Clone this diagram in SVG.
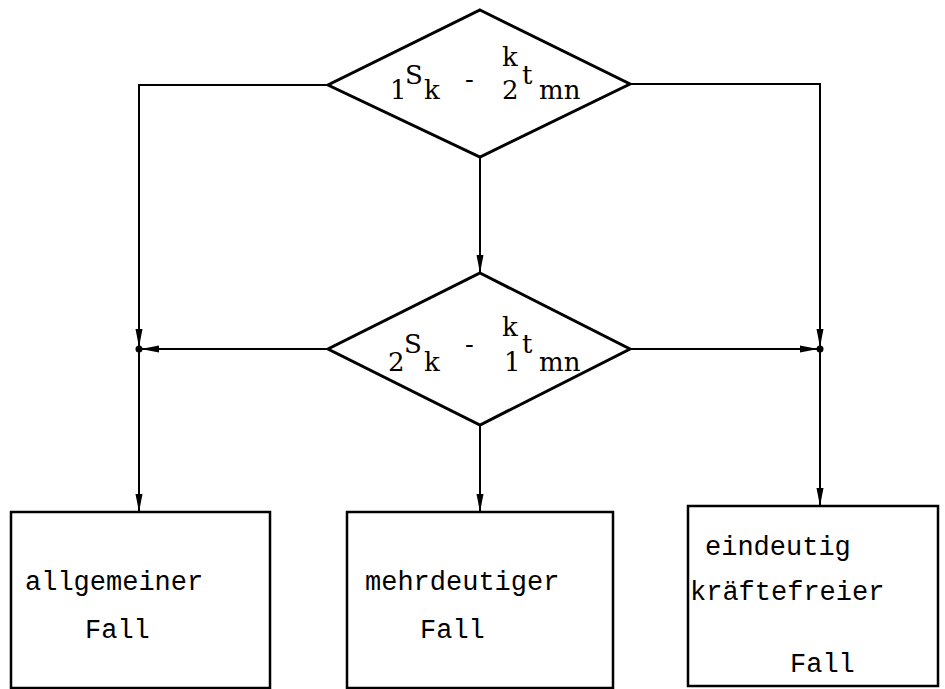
<svg xmlns="http://www.w3.org/2000/svg" width="945" height="689" viewBox="0 0 945 689">
<defs>
<style>
.shape{fill:#fff;stroke:#000;stroke-width:3}
.box{fill:none;stroke:#000;stroke-width:2.5}
.conn{fill:none;stroke:#000;stroke-width:2}
.mono{font-family:"Liberation Mono","Courier New",monospace;font-size:27px;fill:#000}
.ser{font-family:"DejaVu Serif","Liberation Serif",serif;font-size:26px;fill:#000}
</style>
<marker id="arr" markerUnits="userSpaceOnUse" markerWidth="20" markerHeight="10" refX="18" refY="4.5" orient="auto">
<path d="M0,1 L18,4.5 L0,8 Z" fill="#000"/>
</marker>
</defs>
<rect width="945" height="689" fill="#fff"/>
<g id="connectors">
<path class="conn" d="M328,85 H139 V347" marker-end="url(#arr)"/>
<path class="conn" d="M139,349 V512" marker-end="url(#arr)"/>
<path class="conn" d="M630,84 H820 V347" marker-end="url(#arr)"/>
<path class="conn" d="M820,349 V506" marker-end="url(#arr)"/>
<path class="conn" d="M480,157 V273" marker-end="url(#arr)"/>
<path class="conn" d="M480,425 V512" marker-end="url(#arr)"/>
<path class="conn" d="M328,349 H141" marker-end="url(#arr)"/>
<path class="conn" d="M630,349 H818" marker-end="url(#arr)"/>
<circle cx="139" cy="349" r="3.5" fill="#000"/>
<circle cx="820" cy="349" r="3.5" fill="#000"/>
</g>
<g id="decision1">
<polygon class="shape" points="480,10 630,84 480,157 328,85"/>
<text class="ser"><tspan x="390" y="99">1</tspan><tspan x="405" y="84">S</tspan><tspan x="424" y="99">k</tspan><tspan x="465" y="88">-</tspan><tspan x="502" y="66">k</tspan><tspan x="502" y="99">2</tspan><tspan x="522" y="84">t</tspan><tspan x="539" y="99">mn</tspan></text>
</g>
<g id="decision2">
<polygon class="shape" points="480,273 630,349 480,425 328,349"/>
<text class="ser"><tspan x="388" y="371">2</tspan><tspan x="404" y="353">S</tspan><tspan x="424" y="371">k</tspan><tspan x="465" y="353">-</tspan><tspan x="502" y="336">k</tspan><tspan x="504" y="371">1</tspan><tspan x="522" y="353">t</tspan><tspan x="539" y="371">mn</tspan></text>
</g>
<g id="box1">
<rect class="box" x="11" y="512" width="259" height="176"/>
<text class="mono" x="25" y="590">allgemeiner</text>
<text class="mono" x="85" y="638">Fall</text>
</g>
<g id="box2">
<rect class="box" x="347" y="512" width="266" height="176"/>
<text class="mono" x="365" y="590">mehrdeutiger</text>
<text class="mono" x="420" y="638">Fall</text>
</g>
<g id="box3">
<rect class="box" x="688" y="506" width="250" height="180"/>
<text class="mono" x="705" y="555">eindeutig</text>
<text class="mono" x="690" y="600">kräftefreier</text>
<text class="mono" x="790" y="672">Fall</text>
</g>
</svg>
